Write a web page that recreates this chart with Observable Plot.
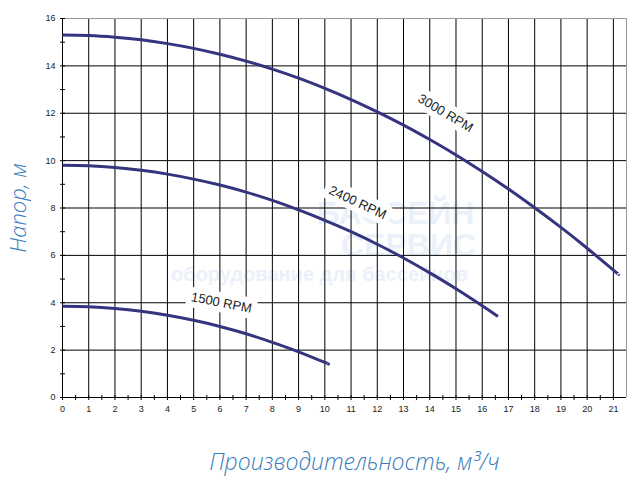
<!DOCTYPE html>
<html>
<head>
<meta charset="utf-8">
<script src="https://cdn.jsdelivr.net/npm/d3@7"></script>
<script src="https://cdn.jsdelivr.net/npm/@observablehq/plot@0.6"></script>
<style>
  html, body { margin: 0; padding: 0; background: #fff; }
  #chart { width: 643px; height: 485px; }
</style>
</head>
<body>
<div id="chart"></div>
<script>
// ---- data ----
const flow3000 = [0,1,2,3,4,5,6,7,8,9,10,11,12,13,14,15,16,17,18,19,20,21,21.2];
const head3000 = [15.3,15.28,15.21,15.1,14.94,14.74,14.49,14.2,13.86,13.48,13.05,12.58,12.06,11.5,10.89,10.24,9.54,8.8,8.01,7.18,6.3,5.38,5.2];
const flow2400 = [0,1,2,3,4,5,6,7,8,9,10,11,12,13,14,15,16,16.6];
const head2400 = [9.8,9.78,9.71,9.59,9.43,9.22,8.97,8.67,8.32,7.92,7.48,7.0,6.47,5.89,5.26,4.59,3.87,3.42];
const flow1500 = [0,1,2,3,4,5,6,7,8,9,10,10.1];
const head1500 = [3.85,3.83,3.76,3.64,3.47,3.26,3.0,2.69,2.33,1.93,1.48,1.43];

const seriesNames = ["3000 RPM", "2400 RPM", "1500 RPM"];
const labelX = [14.6, 11.25, 6.06];
const labelY = [12.0, 8.23, 4.0];
const labelAngle = [31, 25, 11];

const xTicks = d3.range(0, 22);          // 0..21
const xMinorTicks = d3.range(0, 21.5, 0.5);
const yTicks = [0,2,4,6,8,10,12,14,16];
const yMinorTicks = d3.range(0, 17, 1);

const xTitle = "Производительность, м³/ч";
const yTitle = "Напор, м";
const watermark = ["БАССЕЙН", "СЕРВИС", "оборудование для бассейнов"];

// ---- build rows ----
const rows = [];
[[flow3000, head3000, seriesNames[0]], [flow2400, head2400, seriesNames[1]], [flow1500, head1500, seriesNames[2]]]
  .forEach(([fx, hy, name]) => fx.forEach((q, i) => rows.push({q, h: hy[i], s: name})));
const labels = seriesNames.map((s, i) => ({s, x: labelX[i], y: labelY[i], a: labelAngle[i]}));

const vTick = { draw(ctx) { ctx.moveTo(0, -2.5); ctx.lineTo(0, 2.5); } };
const hTick = { draw(ctx) { ctx.moveTo(-2.5, 0); ctx.lineTo(2.5, 0); } };

const lineColor = "#35357f";
const titleColor = "#3a7dbd";
const wmColor = "#eaf1fa";
const titleFont = "'Open Sans', Roboto, sans-serif";

const chart = Plot.plot({
  width: 643,
  height: 485,
  marginLeft: 62,
  marginRight: 17,
  marginTop: 18,
  marginBottom: 88,
  style: { fontFamily: "Arial, 'Liberation Sans', sans-serif", background: "#fff" },
  x: { domain: [0, 21.5] },
  y: { domain: [0, 16] },
  marks: [
    // faint watermark
    Plot.text([watermark[0]], { text: d => d, frameAnchor: "top-left", dx: 333, dy: 195, lineAnchor: "middle", textAnchor: "middle", fill: wmColor, fontSize: 32, fontWeight: "bold" }),
    Plot.text([watermark[1]], { text: d => d, frameAnchor: "top-left", dx: 346, dy: 227, lineAnchor: "middle", textAnchor: "middle", fill: wmColor, fontSize: 32, fontWeight: "bold" }),
    Plot.text([watermark[2]], { text: d => d, frameAnchor: "top-left", dx: 257, dy: 256, lineAnchor: "middle", textAnchor: "middle", fill: wmColor, fontSize: 20, fontWeight: "bold" }),
    // grid
    Plot.ruleX(d3.range(1, 22), { stroke: "#000", strokeWidth: 1, strokeOpacity: 1 }),
    Plot.ruleY([2,4,6,8,10,12,14], { stroke: "#000", strokeWidth: 1, strokeOpacity: 1 }),
    // frame
    Plot.ruleX([21.5], { stroke: "#999", strokeWidth: 1 }),
    Plot.ruleY([16], { stroke: "#999", strokeWidth: 1 }),
    Plot.ruleX([0], { stroke: "#000", strokeWidth: 1 }),
    Plot.ruleY([0], { stroke: "#000", strokeWidth: 1 }),
    // crossing ticks
    Plot.dot(xMinorTicks, { x: d => d, y: () => 0, symbol: vTick, r: 3, stroke: "#000", fill: "none", strokeWidth: 1 }),
    Plot.dot(yMinorTicks, { x: () => 0, y: d => d, symbol: hTick, r: 3, stroke: "#000", fill: "none", strokeWidth: 1 }),
    // axes
    Plot.axisX(xTicks, { tickSize: 0, tickPadding: 8, fontSize: 9, fill: "#222", label: null }),
    Plot.axisY(yTicks, { tickSize: 0, tickPadding: 7, fontSize: 9, fill: "#222", label: null }),
    // curves
    Plot.line(rows, { x: "q", y: "h", z: "s", stroke: lineColor, strokeWidth: 3, curve: "natural", strokeLinecap: "butt" }),
    // series labels with white box-like halo
    Plot.text(labels, { x: "x", y: "y", text: "s", rotate: "a", fontSize: 13, fill: "#222", stroke: "#fff", strokeWidth: 12, strokeLinejoin: "round", paintOrder: "stroke" }),
    // axis titles
    Plot.text([xTitle], { text: d => d, frameAnchor: "bottom", dx: 10, dy: 65, lineAnchor: "middle", textAnchor: "middle", fontSize: 23, fontStyle: "italic", fontWeight: 300, fontFamily: titleFont, fill: titleColor }),
    Plot.text([yTitle], { text: d => d, frameAnchor: "left", dx: -44, dy: 0, lineAnchor: "middle", textAnchor: "middle", rotate: -90, fontSize: 22, fontStyle: "italic", fontWeight: 300, fontFamily: titleFont, fill: titleColor })
  ]
});
document.getElementById("chart").appendChild(chart);
</script>
</body>
</html>
